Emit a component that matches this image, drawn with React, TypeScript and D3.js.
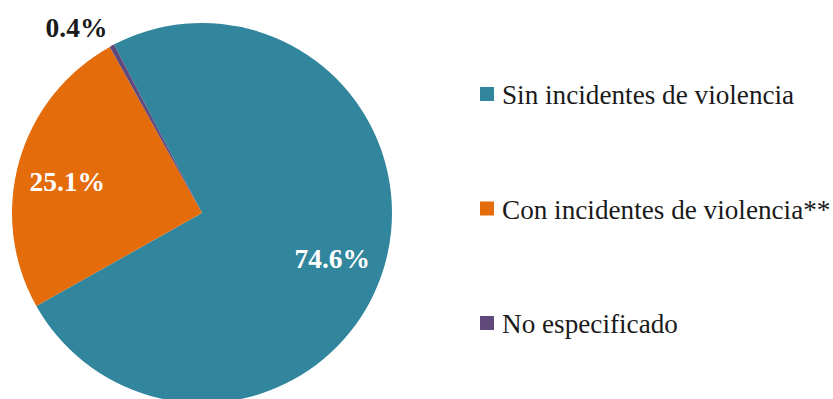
import React from "react";
import * as d3 from "d3";

const categories = ["Sin incidentes de violencia", "Con incidentes de violencia**", "No especificado"];
const values = [74.6, 25.1, 0.4];
const labels = ["74.6%", "25.1%", "0.4%"];
const colors = ["#31859C", "#E46C0A", "#604A7B"];

const W = 833;
const H = 399;
const cx = 202;
const cy = 213;
const R = 190;
const START = (-27.6 * Math.PI) / 180;

export default function App() {
  const pie = d3
    .pie<number>()
    .sort(null)
    .value((d) => d)
    .startAngle(START)
    .endAngle(START + 2 * Math.PI);
  const arcs = pie(values);
  const arc = d3.arc<d3.PieArcDatum<number>>().innerRadius(0).outerRadius(R);
  const labelArc = d3.arc<d3.PieArcDatum<number>>().innerRadius(138).outerRadius(138);
  const outArc = d3.arc<d3.PieArcDatum<number>>().innerRadius(212).outerRadius(212);

  const legendY = d3.scalePoint<string>().domain(categories).range([104, 333]);
  const font = "'Liberation Serif', 'Times New Roman', serif";

  return (
    <div style={{ position: "absolute", left: 0, top: 0 }}>
      <svg width={W} height={H} style={{ display: "block" }}>
        <rect width={W} height={H} fill="#ffffff" />
        <g transform={`translate(${cx},${cy})`}>
          {arcs.map((a, i) => (
            <path key={i} d={arc(a) || ""} fill={colors[i]} />
          ))}
          {arcs.map((a, i) => {
            const small = a.endAngle - a.startAngle < 0.2;
            if (small) {
              const [x, y] = outArc.centroid(a);
              return (
                <text
                  key={"l" + i}
                  x={x + 6}
                  y={y + 11}
                  textAnchor="end"
                  fontFamily={font}
                  fontWeight="bold"
                  fontSize={27.5}
                  fill="#1a1a1a"
                >
                  {labels[i]}
                </text>
              );
            }
            const [x, y] = labelArc.centroid(a);
            return (
              <text
                key={"l" + i}
                x={x - 2}
                y={y + 16}
                textAnchor="middle"
                fontFamily={font}
                fontWeight="bold"
                fontSize={27.5}
                fill="#ffffff"
              >
                {labels[i]}
              </text>
            );
          })}
        </g>
        {categories.map((c, i) => {
          const y = legendY(c) as number;
          return (
            <g key={"lg" + i}>
              <rect x={480} y={y - 17} width={14} height={14} fill={colors[i]} />
              <text x={502} y={y} fontFamily={font} fontSize={27.2} fill="#1a1a1a">
                {c}
              </text>
            </g>
          );
        })}
      </svg>
    </div>
  );
}
